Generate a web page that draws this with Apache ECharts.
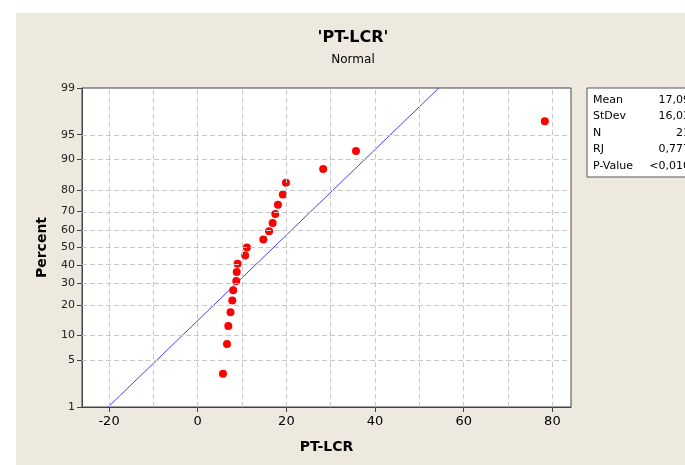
<!DOCTYPE html>
<html><head><meta charset="utf-8">
<script src="https://cdn.jsdelivr.net/npm/echarts@6/dist/echarts.min.js"></script>
<style>html,body{margin:0;padding:0;background:#fff}#c{width:685px;height:465px}</style>
</head><body><div id="c"></div>
<script>
// ---- data ----
const ptlcrValues = [5.7, 6.6, 6.9, 7.4, 7.8, 8.0, 8.7, 8.8, 9.0, 10.7, 11.1, 14.8, 16.1, 16.9, 17.5, 18.1, 19.2, 19.9, 28.3, 35.7, 78.3];
const percentValues = [3.27, 7.94, 12.62, 17.29, 21.96, 26.64, 31.31, 35.98, 40.65, 45.33, 50.0, 54.67, 59.35, 64.02, 68.69, 73.36, 78.04, 82.71, 87.38, 92.06, 96.73];
const percentTicks = [1, 5, 10, 20, 30, 40, 50, 60, 70, 80, 90, 95, 99];
const xLabelTicks = [-20, 0, 20, 40, 60, 80];
const xGridTicks = [-20, -10, 0, 10, 20, 30, 40, 50, 60, 70, 80];
const statLabels = ['Mean', 'StDev', 'N', 'RJ', 'P-Value'];
const statValues = ['17,09', '16,03', '21', '0,777', '<0,010'];
const fitMean = 17.09;
const fitStDev = 16.03;
const fitPercentRange = [1, 99];

// ---- probability scale (inverse normal CDF, Acklam) ----
function invNorm(p) {
  const a = [-3.969683028665376e+01, 2.209460984245205e+02, -2.759285104469687e+02, 1.383577518672690e+02, -3.066479806614716e+01, 2.506628277459239e+00];
  const b = [-5.447609879822406e+01, 1.615858368580409e+02, -1.556989798598866e+02, 6.680131188771972e+01, -1.328068155288572e+01];
  const c = [-7.784894002430293e-03, -3.223964580411365e-01, -2.400758277161838e+00, -2.549732539343734e+00, 4.374664141464968e+00, 2.938163982698783e+00];
  const d = [7.784695709041462e-03, 3.224671290700398e-01, 2.445134137142996e+00, 3.754408661907416e+00];
  const pl = 0.02425, ph = 1 - pl;
  let q, r;
  if (p < pl) { q = Math.sqrt(-2 * Math.log(p)); return (((((c[0]*q+c[1])*q+c[2])*q+c[3])*q+c[4])*q+c[5]) / ((((d[0]*q+d[1])*q+d[2])*q+d[3])*q+1); }
  if (p <= ph) { q = p - 0.5; r = q*q; return (((((a[0]*r+a[1])*r+a[2])*r+a[3])*r+a[4])*r+a[5])*q / (((((b[0]*r+b[1])*r+b[2])*r+b[3])*r+b[4])*r+1); }
  q = Math.sqrt(-2 * Math.log(1 - p)); return -(((((c[0]*q+c[1])*q+c[2])*q+c[3])*q+c[4])*q+c[5]) / ((((d[0]*q+d[1])*q+d[2])*q+d[3])*q+1);
}
const z = pc => invNorm(pc / 100);
const zTicks = percentTicks.map(z);
const zLabel = {};
percentTicks.forEach((p, i) => { zLabel[zTicks[i].toFixed(4)] = String(p); });

const points = ptlcrValues.map((v, i) => [v, z(percentValues[i])]);
const fitLine = fitPercentRange.map(p => [fitMean + z(p) * fitStDev, z(p)]);

const FONT = 'DejaVu Sans';
const gridLine = { color: '#c8c8c8', width: 1, type: [5, 3] };

const chart = echarts.init(document.getElementById('c'), null, { renderer: 'canvas' });
chart.setOption({
  animation: false,
  backgroundColor: '#ffffff',
  graphic: [
    { type: 'rect', z: -10, shape: { x: 16, y: 13, width: 669, height: 452 }, style: { fill: '#ede9df' }, silent: true },
    { type: 'text', style: { text: "'PT-LCR'", x: 353, y: 38, align: 'center', verticalAlign: 'middle', font: 'bold 16px "' + FONT + '"', fill: '#000' } },
    { type: 'text', style: { text: 'Normal', x: 353, y: 60, align: 'center', verticalAlign: 'middle', font: '12px "' + FONT + '"', fill: '#000' } },
    { type: 'rect', shape: { x: 587, y: 88, width: 110, height: 89 }, style: { fill: '#fff', stroke: '#555', lineWidth: 1 } },
    ...statLabels.map((t, i) => ({ type: 'text', style: { text: t, x: 593, y: 100 + i * 16.5, verticalAlign: 'middle', font: '11px "' + FONT + '"', fill: '#000' } })),
    ...statValues.map((t, i) => ({ type: 'text', style: { text: t, x: 690, y: 100 + i * 16.5, align: 'right', verticalAlign: 'middle', font: '11px "' + FONT + '"', fill: '#000' } }))
  ],
  grid: { left: 82, top: 88, width: 489, height: 319, show: true, backgroundColor: '#fff', borderColor: '#444', borderWidth: 1, containLabel: false },
  xAxis: {
    type: 'value', min: -26.1, max: 84.2,
    name: 'PT-LCR', nameLocation: 'middle', nameGap: 33,
    nameTextStyle: { fontFamily: FONT, fontWeight: 'bold', fontSize: 14, color: '#000' },
    axisLine: { show: true, onZero: false, lineStyle: { color: '#444' } },
    axisTick: { show: true, inside: false, length: 5, customValues: xLabelTicks, lineStyle: { color: '#444' } },
    axisLabel: { customValues: xLabelTicks, fontFamily: FONT, fontSize: 13, color: '#000', margin: 8 },
    splitLine: { show: false }
  },
  yAxis: {
    type: 'value', min: z(1), max: z(99),
    name: 'Percent', nameLocation: 'middle', nameGap: 33, nameRotate: 90,
    nameTextStyle: { fontFamily: FONT, fontWeight: 'bold', fontSize: 14, color: '#000' },
    axisLine: { show: true, onZero: false, lineStyle: { color: '#444' } },
    axisTick: { show: true, inside: false, length: 5, customValues: zTicks, lineStyle: { color: '#444' } },
    axisLabel: { customValues: zTicks, fontFamily: FONT, fontSize: 11, color: '#222', margin: 7,
      formatter: v => zLabel[v.toFixed(4)] || '' },
    splitLine: { show: false }
  },
  series: [
    {
      type: 'line', data: [], silent: true, z: 1,
      markLine: {
        silent: true, symbol: 'none', label: { show: false }, lineStyle: gridLine, animation: false,
        emphasis: { disabled: true },
        data: [...xGridTicks.map(v => ({ xAxis: v })), ...zTicks.slice(1, -1).map(v => ({ yAxis: v }))]
      }
    },
    {
      type: 'line', data: fitLine, showSymbol: false, symbol: 'none', z: 3,
      lineStyle: { color: '#4040ff', width: 1 }
    },
    {
      type: 'scatter', data: points, symbol: 'circle', symbolSize: 8, z: 4,
      itemStyle: { color: '#ff0000', opacity: 1 }
    }
  ]
});
</script>
</body></html>
